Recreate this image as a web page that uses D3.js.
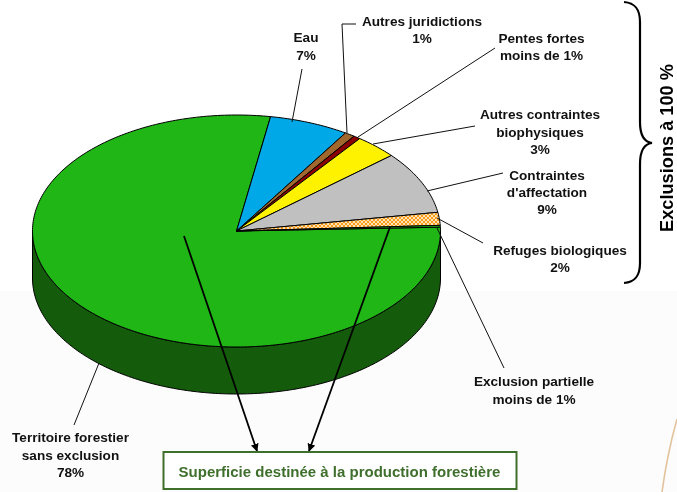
<!DOCTYPE html>
<html><head><meta charset="utf-8">
<script src="https://cdn.jsdelivr.net/npm/d3@7/dist/d3.min.js"></script>
<style>html,body{margin:0;padding:0;background:#fff}svg{display:block;filter:blur(.3px)}
text{font-family:"Liberation Sans",Arial,sans-serif;font-weight:bold;font-size:13.6px;fill:#111;text-anchor:middle}</style>
</head><body><script>
const categories=["Territoire forestier sans exclusion","Eau","Autres juridictions","Pentes fortes","Autres contraintes biophysiques","Contraintes d'affectation","Refuges biologiques","Exclusion partielle"];
const sliceValues=[78.2,6.3,0.8,0.55,3.4,8.7,1.8,0.25];
const sliceColors=["#1fb616","#00a8e8","#a0682e","#8b0000","#fff200","#c0c0c0","url(#hatch)","#1fb616"];
const labelLines=[["Territoire forestier","sans exclusion","78%"],["Eau","7%"],["Autres juridictions","1%"],["Pentes fortes","moins de 1%"],["Autres contraintes","biophysiques","3%"],["Contraintes","d'affectation","9%"],["Refuges biologiques","2%"],["Exclusion partielle","moins de 1%"]];
const labelCentersX=[70.5,306,422,541.5,540,547,560,534];
const labelFirstBaselineY=[442,42,26,43,119,180,255,386];
const labelLineGaps=[17.5,18,17,17,17.5,17,17,17.5];
const leaderPaths=[[[99,363],[74,425]],[[292,122],[302,69]],[[347,133],[342,24],[356,24]],[[358,137],[495,48]],[[373,144],[475,126]],[[427,191],[503,173]],[[437,218],[483,243]],[[437,228],[504,368]]];
const arrowPaths=[[[184,236],[257,451]],[[390,227],[309,451]]];

const W=677,H=492,cx=236.5,cy=231,rx=204,ry=116,depth=47;
const startDeg=88.1;
const svg=d3.select("body").append("svg").attr("width",W).attr("height",H);
const defs=svg.append("defs");
const hatch=defs.append("pattern").attr("id","hatch").attr("patternUnits","userSpaceOnUse").attr("width",4).attr("height",4);
hatch.append("rect").attr("width",4).attr("height",4).attr("fill","#f99d1c");
hatch.append("path").attr("d","M0,0L4,4M4,0L0,4").attr("stroke","#ffe3b5").attr("stroke-width",1);
const mk=defs.append("marker").attr("id","ah").attr("viewBox","0 0 10 10").attr("refX",9).attr("refY",5).attr("markerWidth",8).attr("markerHeight",8).attr("markerUnits","userSpaceOnUse").attr("orient","auto");
mk.append("path").attr("d","M0,0L10,5L0,10Z").attr("fill","#000");

svg.append("rect").attr("width",W).attr("height",H).attr("fill","#fff");
svg.append("rect").attr("y",291).attr("width",W).attr("height",H-291).attr("fill","#fcfcfc");
svg.append("path").attr("d","M662,492Q667,455 677,419").attr("fill","none").attr("stroke","#e3c39c").attr("stroke-width",1.6);

const pt=(a)=>[cx+rx*Math.sin(a),cy-ry*Math.cos(a)];
const rad=Math.PI/180;
const pie=d3.pie().sort(null).value(d=>d).startAngle(startDeg*rad).endAngle((startDeg+360)*rad);
const arcs=pie(sliceValues);
const sector=(a0,a1)=>{const n=Math.max(4,Math.ceil((a1-a0)/rad));
  const pts=d3.range(n+1).map(i=>pt(a0+(a1-a0)*i/n));
  return "M"+cx+","+cy+"L"+pts.map(p=>p.join(",")).join("L")+"Z";};
const sideA0=90*rad,sideA1=270*rad,nS=180;
const front=d3.range(nS+1).map(i=>pt(sideA0+(sideA1-sideA0)*i/nS));
const frontLow=front.map(p=>[p[0],p[1]+depth]).reverse();
svg.append("path").attr("d",d3.line()(front.concat(frontLow))+"Z").attr("fill","#145c0c").attr("stroke","#000").attr("stroke-width",1);
svg.selectAll("path.slice").data(arcs).join("path").attr("class","slice")
  .attr("d",d=>sector(d.startAngle,d.endAngle)).attr("fill",(d,i)=>sliceColors[i])
  .attr("stroke","#000").attr("stroke-width",1).attr("stroke-linejoin","round");

const line=d3.line();
svg.selectAll("path.leader").data(leaderPaths).join("path").attr("class","leader").attr("d",d=>line(d)).attr("fill","none").attr("stroke","#111").attr("stroke-width",1);
svg.selectAll("path.arrow").data(arrowPaths).join("path").attr("class","arrow").attr("d",d=>line(d)).attr("fill","none").attr("stroke","#000").attr("stroke-width",1.8).attr("marker-end","url(#ah)");

labelLines.forEach((ls,i)=>{
  const t=svg.append("text").attr("x",labelCentersX[i]).attr("y",labelFirstBaselineY[i]);
  ls.forEach((s,j)=>t.append("tspan").attr("x",labelCentersX[i]).attr("y",labelFirstBaselineY[i]+j*labelLineGaps[i]).text(s));
});
svg.append("rect").attr("x",163.5).attr("y",452).attr("width",353).attr("height",37).attr("fill","#fff").attr("stroke","#3f6f2d").attr("stroke-width",2);
svg.append("text").attr("x",339.5).attr("y",477).style("fill","#3f6f2d").style("font-size","15px").text("Superficie destinée à la production forestière");
svg.append("path").attr("d","M624,2C636,3 640,10 640,22L640,122C640,134 644,142 652,143C644,144 640,152 640,164L640,263C640,275 636,282 624,283").attr("fill","none").attr("stroke","#000").attr("stroke-width",2.2);
svg.append("text").attr("transform","translate(673,148) rotate(-90)").style("font-size","18.2px").style("fill","#000").text("Exclusions à 100 %");
</script></body></html>
